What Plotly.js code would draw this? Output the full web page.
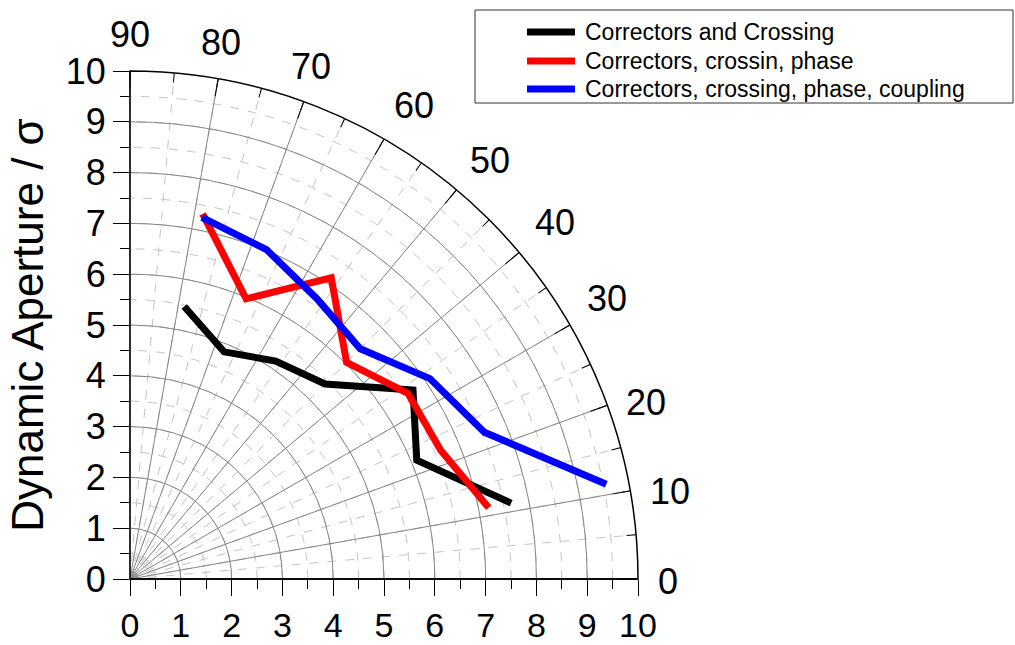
<!DOCTYPE html>
<html>
<head>
<meta charset="utf-8">
<script src="https://cdn.plot.ly/plotly-3.0.1.min.js"></script>
<style>
  html, body { margin: 0; padding: 0; background: #fff; }
  #chart { width: 1015px; height: 645px; }
</style>
</head>
<body>
<div id="chart"></div>
<script>
// Scan angles (degrees) and dynamic aperture radii (sigma) for each configuration
const scanAngles = [11.25, 22.5, 33.75, 45, 56.25, 67.5, 78.75];
const daCorrCross = [7.65, 6.11, 6.70, 5.43, 5.16, 4.84, 5.47];
const daCorrCrossPhase = [7.20, 6.62, 6.58, 6.03, 7.13, 5.97, 7.33];
const daCorrCrossPhaseCoupling = [9.56, 7.55, 7.10, 6.41, 6.63, 7.02, 7.26];

const seriesNames = [
  'Correctors and Crossing',
  'Correctors, crossin, phase',
  'Correctors, crossing, phase, coupling'
];
const seriesColors = ['#000000', '#ff0000', '#0000ff'];
const seriesValues = [daCorrCross, daCorrCrossPhase, daCorrCrossPhaseCoupling];

const angleTicks = [0, 10, 20, 30, 40, 50, 60, 70, 80, 90];
const axisTicks = [0, 1, 2, 3, 4, 5, 6, 7, 8, 9, 10];

// Page geometry (pixels)
const W = 1015, H = 645;
const plotLeft = 130, plotRight = 638, plotBottom = 579, plotTop = 71;
const xDom = [plotLeft / W, plotRight / W];
const yDom = [(H - plotBottom) / H, (H - plotTop) / H];
const FONT = 'Liberation Sans, Arial, sans-serif';
const tickFont = { family: FONT, size: 36, color: '#000' };

// Where each angle label sits outside the outer arc (pixel centres)
const angleLabelSpots = {
  0: [668, 581], 10: [670, 491], 20: [646, 402], 30: [607, 298], 40: [555, 222],
  50: [490, 160], 60: [414, 105], 70: [311, 66], 80: [221, 42], 90: [130, 35]
};

const traces = [];
// empty cartesian trace so the x/y frame is drawn
traces.push({ type: 'scatter', x: [], y: [], xaxis: 'x', yaxis: 'y',
  showlegend: false, hoverinfo: 'skip' });
// invisible placeholder so the fine-grid polar subplot is rendered
traces.push({ type: 'scatterpolar', subplot: 'polar', mode: 'lines',
  r: [0, 0], theta: [0, 0], line: { width: 0, color: 'rgba(0,0,0,0)' },
  showlegend: false, hoverinfo: 'skip' });

seriesValues.forEach((vals, i) => {
  traces.push({
    type: 'scatterpolar', subplot: 'polar2', mode: 'lines',
    r: vals, theta: scanAngles, name: seriesNames[i],
    line: { color: seriesColors[i], width: 7 },
    showlegend: false
  });
});

// Angle labels around the outer arc
const annotations = [];
angleTicks.forEach(a => {
  const [px, py] = angleLabelSpots[a];
  annotations.push({
    xref: 'paper', yref: 'paper', x: px / W, y: 1 - py / H,
    xanchor: 'center', yanchor: 'middle', showarrow: false,
    text: String(a), font: tickFont
  });
});

// Legend (framed box with line samples)
const legendBox = { x0: 475, x1: 1013, y0: 10, y1: 103 };
const legendRows = [32, 61, 89];
const shapes = [{
  type: 'rect', xref: 'paper', yref: 'paper',
  x0: legendBox.x0 / W, x1: legendBox.x1 / W,
  y0: 1 - legendBox.y1 / H, y1: 1 - legendBox.y0 / H,
  line: { color: '#333', width: 1 }, fillcolor: '#fff'
}];
seriesNames.forEach((name, i) => {
  const yy = 1 - legendRows[i] / H;
  shapes.push({ type: 'line', xref: 'paper', yref: 'paper',
    x0: 527 / W, x1: 575 / W, y0: yy, y1: yy,
    line: { color: seriesColors[i], width: 7 } });
  annotations.push({ xref: 'paper', yref: 'paper', x: 583 / W, y: yy,
    xanchor: 'left', yanchor: 'middle', showarrow: false, text: name,
    font: { family: FONT, size: 23, color: '#000' } });
});

const cartAxis = {
  range: [0, 10], tickvals: axisTicks, ticktext: axisTicks.map(String),
  showgrid: false, zeroline: false, showline: false,
  ticks: 'outside', ticklen: 16, tickwidth: 1, tickcolor: '#000',
  minor: { ticks: 'outside', ticklen: 9, dtick: 0.5, tick0: 0, tickcolor: '#000', tickwidth: 1, showgrid: false },
  tickfont: tickFont, fixedrange: true, automargin: false
};

const layout = {
  width: W, height: H,
  margin: { l: 0, r: 0, t: 0, b: 0 },
  paper_bgcolor: '#fff', plot_bgcolor: 'rgba(0,0,0,0)',
  font: { family: FONT, color: '#000' },
  xaxis: Object.assign({}, cartAxis, { domain: xDom, anchor: 'y', ticklabelstandoff: 0,
    tickfont: { family: FONT, size: 34, color: '#000' } }),
  yaxis: Object.assign({}, cartAxis, { domain: yDom, anchor: 'x',
    title: { text: 'Dynamic Aperture / σ', font: { family: FONT, size: 44, color: '#000' }, standoff: 8 } }),
  // fine grid: dashed circles every 0.5 and dashed rays every 5 degrees
  polar: {
    domain: { x: xDom, y: yDom }, sector: [0, 90], bgcolor: 'rgba(0,0,0,0)',
    radialaxis: { range: [0, 10], tick0: 0, dtick: 0.5, showgrid: true,
      gridcolor: '#c4c4c4', griddash: 'dash', gridwidth: 1,
      showticklabels: false, ticks: '', showline: false },
    angularaxis: { tick0: 0, dtick: 5, direction: 'counterclockwise', rotation: 0,
      showgrid: true, gridcolor: '#c4c4c4', griddash: 'dash', gridwidth: 1,
      showline: false, ticks: 'inside', ticklen: 9, tickcolor: '#000', tickwidth: 1,
      showticklabels: false }
  },
  // main grid: solid circles every 1 and rays every 10 degrees
  polar2: {
    domain: { x: xDom, y: yDom }, sector: [0, 90], bgcolor: 'rgba(0,0,0,0)',
    radialaxis: { range: [0, 10], tick0: 0, dtick: 1, showgrid: true,
      gridcolor: '#858585', gridwidth: 1, showticklabels: false, ticks: '',
      showline: true, linecolor: '#000', linewidth: 1.5 },
    angularaxis: { tick0: 0, dtick: 10, direction: 'counterclockwise', rotation: 0,
      showgrid: true, gridcolor: '#858585', gridwidth: 1,
      showline: true, linecolor: '#000', linewidth: 1.5,
      ticks: 'inside', ticklen: 17, tickcolor: '#000', tickwidth: 1,
      showticklabels: false }
  },
  showlegend: false,
  shapes: shapes,
  annotations: annotations
};

Plotly.newPlot('chart', traces, layout, { staticPlot: true, displayModeBar: false });
</script>
</body>
</html>
